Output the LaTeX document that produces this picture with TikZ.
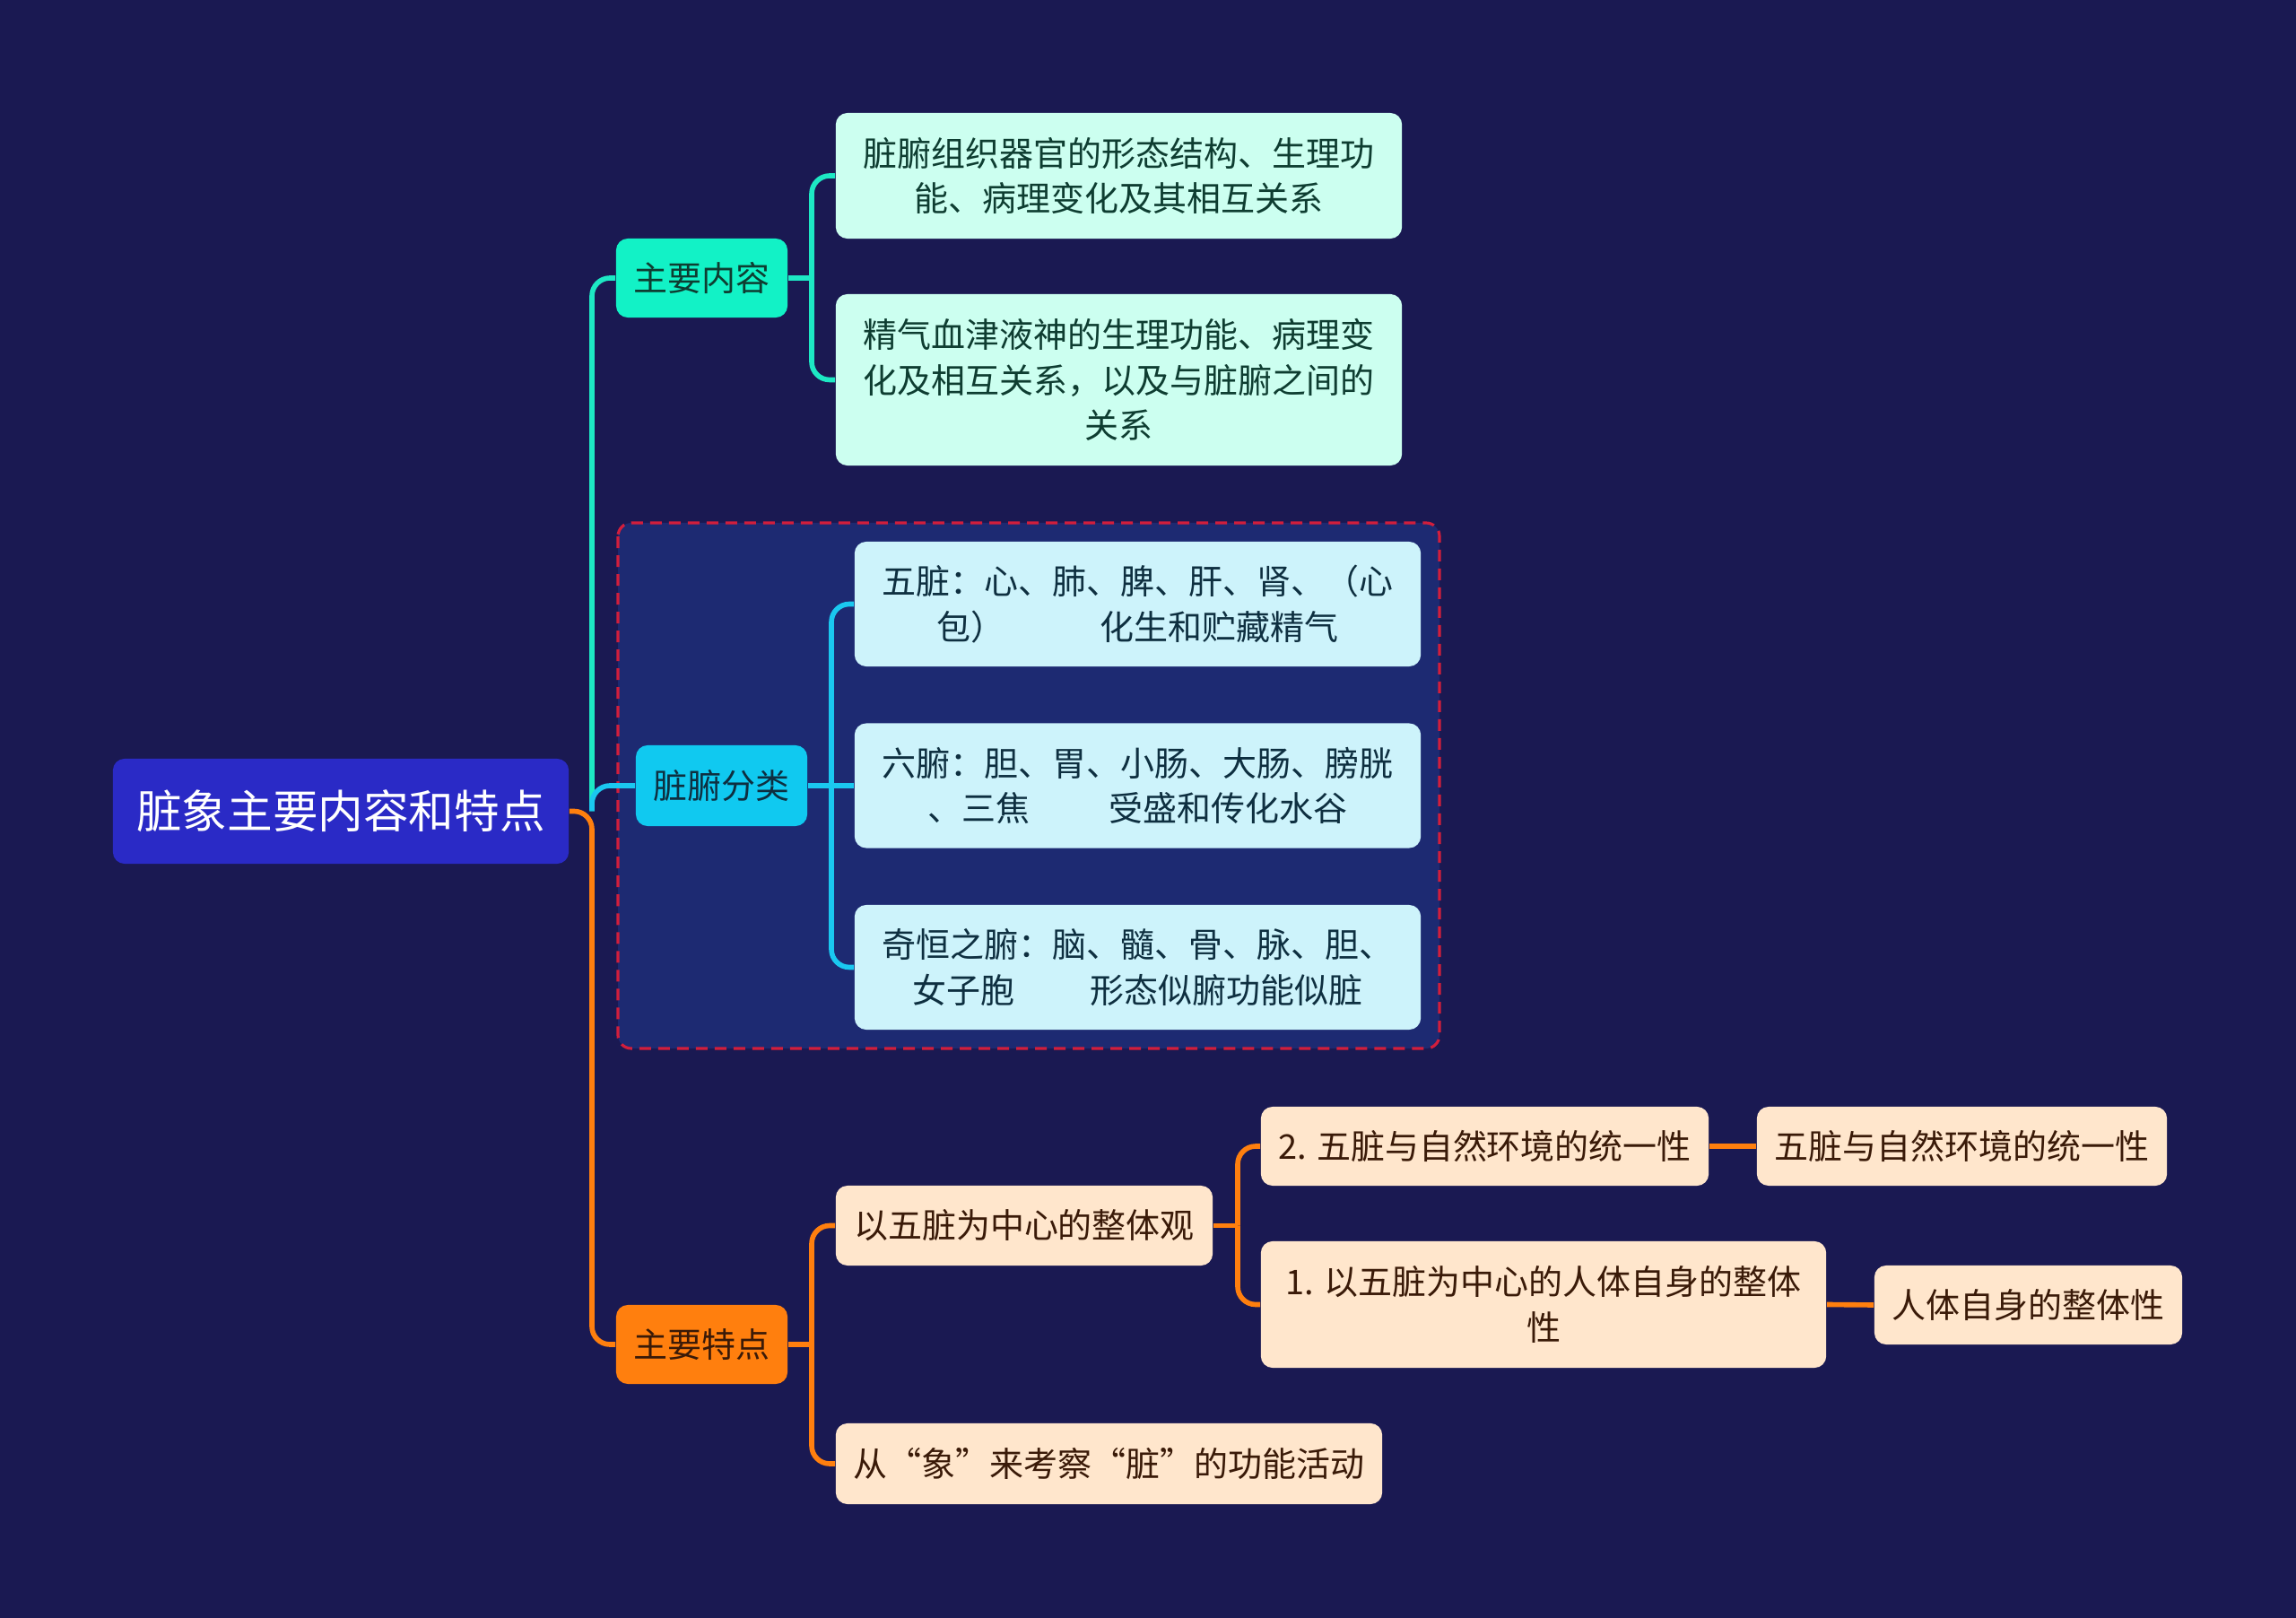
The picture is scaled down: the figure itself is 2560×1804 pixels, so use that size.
\documentclass[tikz,border=0pt]{standalone}
\usepackage{fontspec}
\setmainfont{Noto Sans CJK SC}
\definecolor{bgnavy}{HTML}{1A1952}
\definecolor{rootblue}{HTML}{2A2AC6}
\definecolor{mintline}{HTML}{1DE8C4}
\definecolor{mintfill}{HTML}{12F2C6}
\definecolor{mintleaf}{HTML}{CCFFF0}
\definecolor{minttext}{HTML}{0E3D31}
\definecolor{cyanline}{HTML}{1AC8F0}
\definecolor{cyanfill}{HTML}{10C9F0}
\definecolor{cyanleaf}{HTML}{CDF3FB}
\definecolor{cyantext}{HTML}{0E2F40}
\definecolor{orangeline}{HTML}{FF7F0E}
\definecolor{orangeleaf}{HTML}{FFE6CC}
\definecolor{orangetext}{HTML}{3A1A08}
\definecolor{framefill}{HTML}{1D2A72}
\definecolor{framered}{HTML}{D21E3C}
\newcommand\fullq[1]{{\addfontfeatures{CharacterWidth=Full}#1}}

\begin{document}
\begin{tikzpicture}[x=0.01cm,y=-0.01cm,
  box/.style={rounded corners=0.13cm, inner sep=0pt, align=center,
    font=\fontsize{10.8}{14.4}\selectfont},
  mintbox/.style={box, fill=mintleaf, text=minttext},
  cyanbox/.style={box, fill=cyanleaf, text=cyantext},
  orangebox/.style={box, fill=orangeleaf, text=orangetext},
  hub/.style={box, minimum width=1.91cm, minimum height=0.88cm},
  link/.style={line width=1.6pt, rounded corners=0.2cm}]
\fill[bgnavy] (0,0) rectangle (2560,1804);
\useasboundingbox (0,0) rectangle (2560,1804);

% frame round the classification branch
\filldraw[fill=framefill, draw=framered, line width=0.9pt, dash pattern=on 0.13cm off 0.08cm,
  rounded corners=0.15cm] (689,583) rectangle (1605,1169);

% root and first level
\node[box, fill=rootblue, text=white, minimum width=5.08cm, minimum height=1.17cm,
  font=\fontsize{14.4}{18}\selectfont] (root) at (380,904.5) {脏象主要内容和特点};
\node[hub, fill=mintfill, text=minttext] (content) at (782.5,310) {主要内容};
\node[hub, fill=cyanfill, text=cyantext, minimum height=0.90cm] (classify) at (804.5,876) {脏腑分类};
\node[hub, fill=orangeline, text=orangetext] (feature) at (782.5,1499) {主要特点};

% leaves of the content branch
\node[mintbox, minimum width=6.31cm, minimum height=1.40cm] (cont1) at (1247.5,196)
  {脏腑组织器官的形态结构、生理功\\能、病理变化及其相互关系};
\node[mintbox, minimum width=6.31cm, minimum height=1.91cm] (cont2) at (1247.5,423.5)
  {精气血津液神的生理功能、病理变\\化及相互关系，以及与脏腑之间的\\关系};

% leaves of the classification branch
\node[cyanbox, minimum width=6.31cm, minimum height=1.39cm] (organ1) at (1268.5,673.5)
  {五脏：心、肺、脾、肝、肾、（心\\包）\hspace{2.8em}化生和贮藏精气};
\node[cyanbox, minimum width=6.31cm, minimum height=1.39cm] (organ2) at (1268.5,876)
  {六腑：胆、胃、小肠、大肠、膀胱\\、三焦\hspace{2.3em}受盛和传化水谷};
\node[cyanbox, minimum width=6.31cm, minimum height=1.39cm] (organ3) at (1268.5,1078.5)
  {奇恒之腑：脑、髓、骨、脉、胆、\\女子胞\hspace{2.2em}形态似腑功能似脏};

% leaves of the feature branch
\node[orangebox, minimum width=4.20cm, minimum height=0.89cm] (feat1) at (1142,1366.5) {以五脏为中心的整体观};
\node[orangebox, minimum width=6.09cm, minimum height=0.90cm] (feat2) at (1236.5,1632)
  {从\fullq{“}象\fullq{”}来考察\fullq{“}脏\fullq{”}的功能活动};
\node[orangebox, minimum width=4.99cm, minimum height=0.88cm] (feat11) at (1655.5,1278) {2. 五脏与自然环境的统一性};
\node[orangebox, minimum width=4.57cm, minimum height=0.88cm] (feat111) at (2187.5,1278) {五脏与自然环境的统一性};
\node[orangebox, minimum width=6.30cm, minimum height=1.41cm] (feat12) at (1721,1454.5)
  {1. 以五脏为中心的人体自身的整体\\性};
\node[orangebox, minimum width=3.43cm, minimum height=0.88cm] (feat121) at (2261.5,1455) {人体自身的整体性};

% forks
\coordinate (trunk) at (660,904.5);
\coordinate (contfork) at (905,310);
\coordinate (classfork) at (927,876);
\coordinate (featfork) at (905,1499);
\coordinate (wholefork) at (1380,1366.5);

% connectors
\draw[link, mintline] (trunk) |- (content.west);
\draw[link, cyanline] (trunk) |- (classify.west);
\draw[link, orangeline] (root.east) -- (trunk) |- (feature.west);

\draw[link, mintline] (content.east) -- (contfork);
\draw[link, mintline] (contfork) |- (cont1.west);
\draw[link, mintline] (contfork) |- (cont2.west);

\draw[link, cyanline] (classify.east) -- (classfork);
\draw[link, cyanline] (classfork) |- (organ1.west);
\draw[link, cyanline] (classfork) -- (organ2.west);
\draw[link, cyanline] (classfork) |- (organ3.west);

\draw[link, orangeline] (feature.east) -- (featfork);
\draw[link, orangeline] (featfork) |- (feat1.west);
\draw[link, orangeline] (featfork) |- (feat2.west);
\draw[link, orangeline] (feat1.east) -- (wholefork);
\draw[link, orangeline] (wholefork) |- (feat11.west);
\draw[link, orangeline] (wholefork) |- (feat12.west);
\draw[link, orangeline] (feat11.east) -- (feat111.west);
\draw[link, orangeline] (feat12.east) -- (feat121.west);
\end{tikzpicture}
\end{document}
